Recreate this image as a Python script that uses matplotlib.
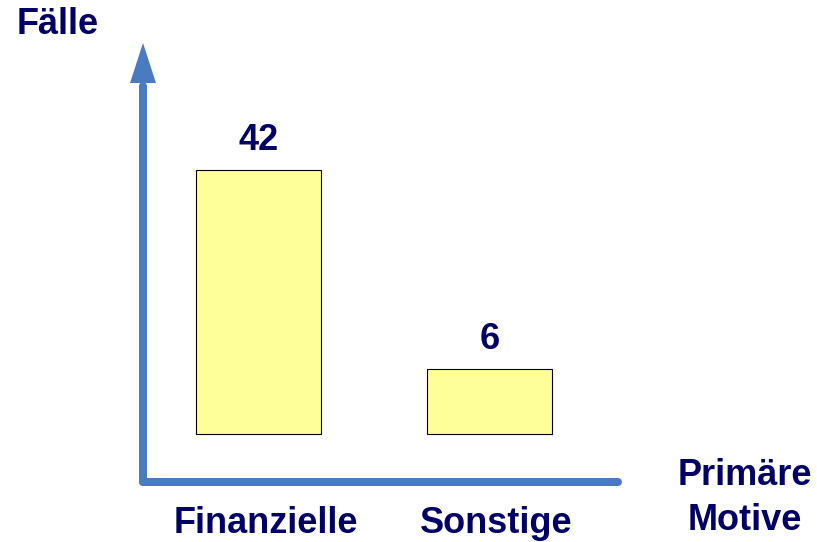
import numpy as np
import matplotlib
matplotlib.use('Agg')
import matplotlib.pyplot as plt
from matplotlib.patches import Polygon
from matplotlib.lines import Line2D

categories = ['Finanzielle', 'Sonstige']
values = [42, 6]
value_labels = ['42', '6']
y_title = 'Fälle'
x_title = 'Primäre\nMotive'

W, H = 817, 542
fig = plt.figure(figsize=(W / 100, H / 100), dpi=100)
navy = '#000066'
blue = '#4a7bc0'
fam = ['Liberation Sans', 'DejaVu Sans']
fs = 26

# schematic (non-proportional) bar heights as in the reference: power scale
P = 0.72
def fwd(y):
    y = np.asarray(y, float)
    return np.sign(y) * np.abs(y) ** P
def inv(y):
    y = np.asarray(y, float)
    return np.sign(y) * np.abs(y) ** (1 / P)

ax = fig.add_axes([0, 0, 1, 1])
ax.set_yscale('function', functions=(fwd, inv))
x = np.arange(len(categories))
ax.bar(x, values, width=0.541, color='#ffff99', edgecolor='black', linewidth=0.8, zorder=3)

px_per_cat = 231.0
x0 = 258.5
ax.set_xlim(-x0 / px_per_cat, (W - x0) / px_per_cat)
base = H - 433.5
unit = 263.5 / float(fwd(max(values)))
ax.set_ylim(float(inv(-base / unit)), float(inv((H - base) / unit)))
ax.axis('off')

for xi, v, lbl in zip(x, values, value_labels):
    ax.annotate(lbl, (xi, v), xytext=(0, 14.4), textcoords='offset points',
                ha='center', va='baseline', fontsize=fs, fontweight='bold',
                color=navy, family=fam)
for xi, cat in zip(x, categories):
    ax.annotate(cat, (xi, 0), xytext=(5, -(533 - 433.5) * 0.72), textcoords='offset points',
                ha='center', va='baseline', fontsize=fs, fontweight='bold',
                color=navy, family=fam)

def fx(px):
    return px / W
def fy(py):
    return 1 - py / H

lw = 8 * 0.72
fig.add_artist(Line2D([fx(143), fx(143)], [fy(482), fy(86)], transform=fig.transFigure,
                      lw=lw, color=blue, solid_capstyle='round'))
fig.add_artist(Line2D([fx(143), fx(618)], [fy(482), fy(482)], transform=fig.transFigure,
                      lw=lw, color=blue, solid_capstyle='round'))
fig.add_artist(Polygon([(fx(130), fy(83)), (fx(156), fy(83)), (fx(143), fy(43))],
                       closed=True, transform=fig.transFigure, facecolor=blue,
                       edgecolor='none'))

fig.text(fx(17), fy(34), y_title, ha='left', va='baseline', fontsize=fs,
         fontweight='bold', color=navy, family=fam)
for i, line in enumerate(x_title.split('\n')):
    fig.text(fx(745), fy(485 + 45 * i), line, ha='center', va='baseline', fontsize=fs,
             fontweight='bold', color=navy, family=fam)

fig.savefig('out.png', dpi=100)
